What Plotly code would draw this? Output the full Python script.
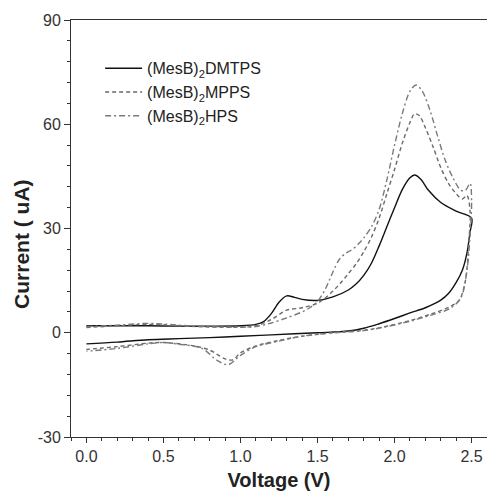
import plotly.graph_objects as go

# ---- data ----
dmtps_v = [0.0, 0.2, 0.4, 0.6, 0.8, 1.0, 1.1, 1.15, 1.2, 1.25, 1.3, 1.35, 1.4, 1.5, 1.6, 1.7, 1.75, 1.8, 1.85,
           1.9, 1.95, 2.0, 2.05, 2.1, 2.13, 2.17, 2.22, 2.3, 2.4, 2.5,
           2.49, 2.47, 2.44, 2.4, 2.35, 2.3, 2.2, 2.1, 2.0, 1.9, 1.8, 1.7, 1.5, 1.2, 1.0, 0.8, 0.6, 0.4, 0.2, 0.0]
dmtps_i = [2.0, 2.0, 2.0, 1.9, 1.9, 2.0, 2.4, 3.2, 5.5, 8.8, 10.6, 10.2, 9.6, 9.3, 10.3, 12.3, 14.0, 16.5, 20.0,
           25.0, 30.5, 36.0, 41.2, 44.6, 45.4, 44.2, 41.0, 37.5, 35.0, 33.0,
           29.0, 23.0, 18.0, 14.5, 11.3, 9.4, 7.2, 5.7, 4.1, 2.6, 1.3, 0.5, 0.0, -0.6, -1.0, -1.4, -1.7, -2.0, -2.7, -3.2]

mpps_v = [0.0, 0.2, 0.4, 0.5, 0.7, 1.0, 1.1, 1.2, 1.3, 1.4, 1.5, 1.55, 1.6, 1.65, 1.7, 1.75, 1.8, 1.85, 1.9,
          1.95, 2.0, 2.05, 2.1, 2.13, 2.16, 2.2, 2.25, 2.3, 2.35, 2.4, 2.44, 2.47,
          2.49, 2.48, 2.46, 2.42, 2.36, 2.23, 2.1, 1.92, 1.8, 1.6, 1.4, 1.25, 1.1, 1.0, 0.95, 0.9, 0.8, 0.7,
          0.5, 0.4, 0.2, 0.0]
mpps_i = [1.5, 2.0, 2.4, 2.3, 1.8, 1.6, 2.0, 3.8, 6.5, 7.2, 8.5, 10.0, 12.0, 14.3, 17.0, 19.8, 23.3, 27.5, 33.0,
          40.0, 47.0, 54.5, 60.5, 63.0, 62.5, 59.0, 53.5, 47.5, 43.0, 40.0, 38.5, 39.5,
          35.0, 25.0, 15.0, 9.4, 7.5, 5.3, 3.5, 1.6, 0.7, 0.0, -1.0, -2.2, -3.8, -5.8, -7.8, -7.5, -5.0, -3.8,
          -2.8, -3.0, -4.0, -4.8]

hps_v = [0.0, 0.2, 0.4, 0.5, 0.7, 1.0, 1.1, 1.2, 1.3, 1.4, 1.45, 1.5, 1.55, 1.6, 1.64, 1.68, 1.72, 1.76, 1.8,
         1.85, 1.9, 1.95, 2.0, 2.05, 2.1, 2.14, 2.18, 2.23, 2.28, 2.33, 2.38, 2.43, 2.46, 2.49,
         2.5, 2.49, 2.47, 2.43, 2.36, 2.23, 2.1, 1.92, 1.8, 1.6, 1.4, 1.25, 1.1, 1.0, 0.92, 0.85, 0.75, 0.6,
         0.5, 0.4, 0.2, 0.0]
hps_i = [1.8, 2.2, 2.7, 2.5, 1.9, 1.6, 1.8, 2.8, 4.3, 6.0, 7.2, 9.0, 12.5, 17.5, 21.0, 22.8, 23.8, 25.3, 27.3,
         30.5, 35.5, 44.0, 54.0, 63.0, 69.5, 71.3, 69.5, 64.0, 56.5, 49.5, 44.5, 41.0, 41.0, 43.0,
         38.0, 28.0, 18.0, 10.0, 7.0, 5.0, 3.3, 1.5, 0.6, 0.0, -1.0, -2.4, -4.0, -6.5, -9.2, -8.0, -4.5, -3.3,
         -2.8, -3.2, -4.5, -5.3]

names = ["(MesB)<sub>2</sub>DMTPS", "(MesB)<sub>2</sub>MPPS", "(MesB)<sub>2</sub>HPS"]
x_ticks = [0.0, 0.5, 1.0, 1.5, 2.0, 2.5]
x_labels = ["0.0", "0.5", "1.0", "1.5", "2.0", "2.5"]
y_ticks = [-30, 0, 30, 60, 90]
y_labels = ["-30", "0", "30", "60", "90"]

FONT = "Liberation Sans, Arial, Helvetica, sans-serif"

fig = go.Figure()
fig.add_trace(go.Scatter(x=dmtps_v, y=dmtps_i, name=names[0], mode="lines",
                         line=dict(color="#111111", width=1.4, shape="spline", smoothing=0.9)))
fig.add_trace(go.Scatter(x=mpps_v, y=mpps_i, name=names[1], mode="lines",
                         line=dict(color="#6a6a6a", width=1.4, dash="4px,3px", shape="spline", smoothing=0.9)))
fig.add_trace(go.Scatter(x=hps_v, y=hps_i, name=names[2], mode="lines",
                         line=dict(color="#7a7a7a", width=1.4, dash="6px,3px,2px,3px", shape="spline", smoothing=0.9)))

axis_common = dict(showgrid=False, zeroline=False, showline=True, linecolor="#333333", linewidth=1,
                   tickcolor="#333333", automargin=False,
                   tickfont=dict(family=FONT, size=16, color="#333333"))

fig.update_layout(
    width=487, height=491,
    margin=dict(l=71, r=0, t=20, b=54),
    paper_bgcolor="white", plot_bgcolor="white",
    font=dict(family=FONT, color="#222222"),
    showlegend=True,
    legend=dict(x=0.07, y=0.925, xanchor="left", yanchor="top", bgcolor="rgba(0,0,0,0)",
                itemwidth=37,
                font=dict(family=FONT, size=16, color="#222222"), tracegroupgap=0),
    xaxis=dict(range=[-0.1, 2.6], tickvals=x_ticks, ticktext=x_labels, ticks="outside", ticklen=5,
               minor=dict(dtick=0.1, tick0=0, ticks="outside", ticklen=3, tickcolor="#333333"),
               mirror=True,
               title=dict(text="<b>Voltage (V)</b>", font=dict(family=FONT, size=20, color="#222222"), standoff=8),
               **axis_common),
    yaxis=dict(range=[-30, 90], tickvals=y_ticks, ticktext=y_labels, ticks="outside", ticklen=6,
               minor=dict(dtick=6, tick0=0, ticks="outside", ticklen=3, tickcolor="#333333"),
               mirror=True,
               **axis_common),
    xaxis2=dict(range=[-0.1, 2.6], overlaying="x", side="top", anchor="y", showticklabels=False,
                showgrid=False, zeroline=False, ticks="inside", ticklen=4, tickvals=x_ticks, tickcolor="#333333",
                automargin=False,
                minor=dict(dtick=0.1, tick0=0, ticks="inside", ticklen=2, tickcolor="#333333")),
    annotations=[dict(text="<b>Current ( uA)</b>", textangle=-90, xref="paper", yref="paper",
                      x=0, y=0.463, xanchor="center", yanchor="middle", xshift=-49, showarrow=False,
                      font=dict(family=FONT, size=21, color="#222222"))],
)

fig.write_html("out.html", config={"displayModeBar": False},
               post_script="document.body.style.margin='0';")
